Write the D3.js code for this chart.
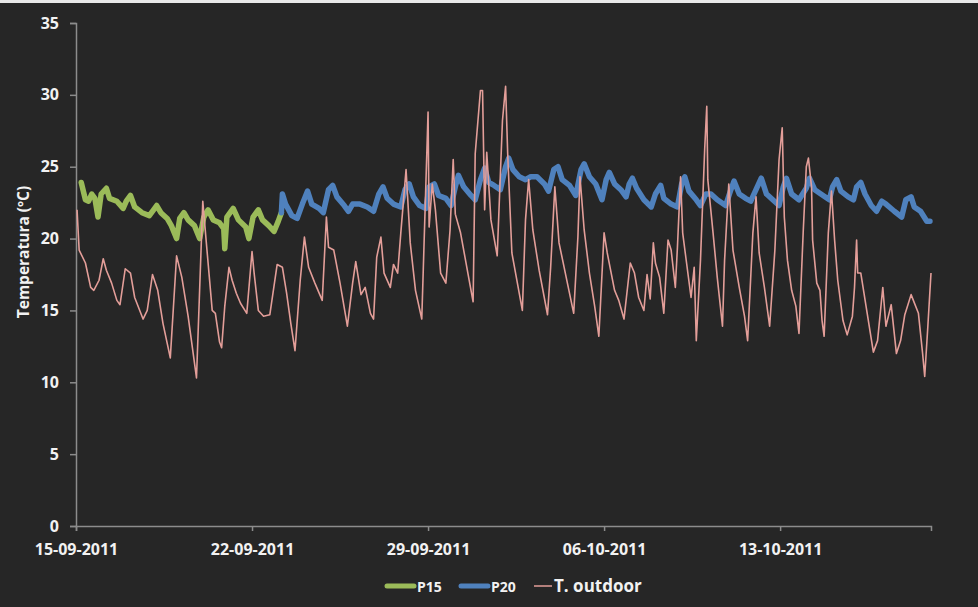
<!DOCTYPE html>
<html>
<head>
<meta charset="utf-8">
<script src="https://cdn.jsdelivr.net/npm/d3@7"></script>
<style>
  html, body { margin: 0; padding: 0; background: #262626; }
  svg { display: block; }
  text { font-family: "Open Sans", "DejaVu Sans", sans-serif; font-weight: bold; fill: #f2f2f2; }
</style>
</head>
<body>
<svg id="chart" width="978" height="607"></svg>
<script>
// Series start (hourly offsets are counted from here)
const startDate = "15-09-2011";

// Outdoor temperature (ºC)
const outdoorHours = [1,3,9,14,17,22,26,29,34,39,42,47,52,56,64,68,73,78,83,90,96,101,107,115,121,125,130,133,137,139,142,146,149,153,157,163,168,170,174,179,185,192,197,201,205,209,214,218,222,228,235,239,241,246,252,259,264,267,272,276,281,284,287,291,294,300,303,307,310,315,319,324,330,336,337,340,343,348,353,357,360,362,367,373,379,381,386,388,390,392,396,402,407,410,412,416,423,426,429,432,436,442,450,453,457,461,467,475,479,481,485,490,495,499,504,507,514,518,523,529,533,537,542,545,548,551,553,557,561,565,568,572,574,577,579,582,587,590,592,596,600,602,603,608,612,617,619,623,627,633,638,641,646,649,652,657,662,667,671,674,676,679,683,687,690,694,697,699,702,703,707,710,712,714,718,721,724,727,732,736,741,743,745,746,749,754,761,765,770,773,778,783,787,791,797,804,808,810,813,816];
const outdoorTemp = [22.0,19.2,18.3,16.6,16.4,17.1,18.6,17.8,16.9,15.7,15.4,17.9,17.6,15.9,14.4,15.0,17.5,16.4,14.1,11.7,18.8,17.3,14.6,10.3,22.6,19.2,15.0,14.8,12.8,12.4,15.3,18.0,17.1,16.2,15.5,14.8,19.1,17.6,15.0,14.6,14.7,18.2,18.0,16.2,14.1,12.2,17.1,20.1,18.0,16.9,15.7,21.5,19.4,19.2,16.9,13.9,16.9,18.4,16.1,16.6,14.8,14.4,18.7,20.1,17.6,16.6,18.2,17.6,20.4,24.8,19.7,16.4,14.4,28.8,20.8,23.8,22.0,17.6,16.9,20.6,25.5,21.7,20.4,18.0,15.6,25.9,30.3,30.3,22.0,26.0,21.3,18.8,28.2,30.6,25.9,19.0,16.2,15.0,21.3,24.1,20.6,17.8,14.7,18.0,23.6,19.7,17.6,14.8,20.1,24.3,20.6,17.6,15.3,13.2,20.4,19.0,16.4,15.7,14.4,18.3,17.6,15.9,15.0,17.5,15.8,19.7,18.3,17.3,14.8,19.9,19.2,16.6,19.4,24.3,20.4,18.7,15.9,18.0,12.9,18.5,26.2,29.2,24.1,20.4,17.3,13.9,18.5,23.8,19.2,16.6,14.6,12.9,20.4,22.9,19.0,16.6,13.9,19.2,25.5,27.7,21.5,18.5,16.4,15.3,13.4,20.4,25.0,25.6,23.6,19.9,16.9,16.4,14.3,13.2,20.4,23.3,19.9,17.1,14.3,13.3,14.6,16.6,19.9,17.6,17.6,15.3,12.1,12.9,16.6,13.9,15.4,12.0,12.9,14.7,16.1,14.8,12.0,10.4,13.9,17.6];

// P15 indoor temperature (ºC)
const p15Hours = [5,9,12,15,18,21,24,29,32,39,45,48,52,56,63,70,77,81,87,91,96,99,103,107,113,118,122,126,131,137,141,142,144,150,155,162,165,169,174,178,184,189,193,196];
const p15Temp = [23.9,22.7,22.6,23.1,22.8,21.5,23.1,23.5,22.8,22.6,22.1,22.6,23.0,22.2,21.8,21.6,22.3,21.8,21.4,20.9,20.0,21.4,21.8,21.3,20.9,20.0,21.5,22.0,21.3,21.1,20.7,19.3,21.5,22.1,21.3,20.8,20.0,21.5,22.0,21.3,20.9,20.5,21.2,21.8];

// P20 indoor temperature (ºC)
const p20Hours = [196,197,200,206,211,216,221,225,232,236,241,245,249,256,260,264,271,278,284,289,293,297,303,310,314,318,322,328,334,337,342,346,353,358,362,365,370,377,381,386,390,394,399,405,410,413,417,423,429,434,440,447,451,456,460,464,471,477,482,485,490,496,502,506,509,514,520,525,528,531,535,542,549,553,558,561,568,574,578,581,585,592,596,601,606,612,620,625,628,633,639,644,649,654,659,665,671,675,678,683,690,697,700,705,713,719,722,726,730,737,742,745,749,753,759,764,769,773,781,788,792,797,800,806,812,815];
const p20Temp = [21.8,23.1,22.4,21.6,21.4,22.4,23.3,22.4,22.1,21.8,23.4,23.7,22.9,22.3,21.9,22.4,22.4,22.2,21.9,23.1,23.6,22.8,22.4,22.2,23.4,23.8,22.9,22.3,22.1,23.6,23.8,23.0,22.8,22.3,23.6,24.4,23.6,23.0,22.7,24.1,24.9,23.9,23.7,23.4,25.0,25.6,24.8,24.3,24.1,24.3,24.3,23.8,23.3,24.8,25.0,24.1,23.7,23.0,24.8,25.2,24.3,23.8,22.7,24.1,24.6,23.8,23.4,22.9,23.8,24.2,23.5,22.7,22.2,23.1,23.7,22.8,22.4,22.2,23.8,24.3,23.3,22.7,22.3,23.1,23.1,22.7,22.3,23.4,24.0,23.1,22.8,22.6,23.4,24.2,23.1,22.7,22.3,23.6,24.2,23.1,22.7,23.5,24.2,23.4,23.0,22.7,23.6,24.1,23.3,22.9,22.7,23.6,23.9,23.1,22.3,21.9,22.6,22.4,21.9,21.5,22.7,22.9,22.2,21.9,21.2,21.2];

// Axis ticks
const xTickLabels = ["15-09-2011","22-09-2011","29-09-2011","06-10-2011","13-10-2011"];
const xEndLabel = "19-10-2011";
const yTicks = [0,5,10,15,20,25,30,35];

const seriesNames = ["P15","P20","T. outdoor"];
const seriesColors = ["#9bbb59","#4f81bd","#e39e99"];

const parseDate = d3.utcParse("%d-%m-%Y");
const t0 = parseDate(startDate);
const toSeries = (hours, temps) => d3.zip(hours, temps).map(([h, v]) => ({ date: d3.utcHour.offset(t0, h), value: v }));

const outdoor = toSeries(outdoorHours, outdoorTemp);
const p15 = toSeries(p15Hours, p15Temp);
const p20 = toSeries(p20Hours, p20Temp);

const svg = d3.select("#chart");
const W = 978, H = 607;
const plot = { left: 76, right: 931, top: 23, bottom: 526 };

svg.append("rect").attr("width", W).attr("height", H).attr("fill", "#262626");
// thin light frame line along the top edge
svg.append("rect").attr("x", 0).attr("y", 0).attr("width", W).attr("height", 3).attr("fill", "#e8e8e8");

const x = d3.scaleUtc()
  .domain([t0, parseDate(xEndLabel)])
  .range([plot.left, plot.right]);

const y = d3.scaleLinear()
  .domain([0, 35])
  .range([plot.bottom, plot.top]);

const axisColor = "#8c8c8c";

// Y axis
const gy = svg.append("g")
  .attr("transform", `translate(${plot.left},0)`)
  .call(d3.axisLeft(y).tickValues(yTicks).tickSize(6).tickPadding(11).tickFormat(d3.format("d")));
gy.select(".domain").attr("stroke", axisColor).attr("stroke-width", 1.5);
gy.selectAll(".tick line").attr("stroke", axisColor).attr("stroke-width", 1.5);
gy.selectAll(".tick text").attr("font-size", 16).attr("font-family", null).attr("fill", null);

// X axis
const gx = svg.append("g")
  .attr("transform", `translate(0,${plot.bottom})`)
  .call(d3.axisBottom(x).tickValues(xTickLabels.map(parseDate)).tickSize(5).tickPadding(13)
    .tickFormat(d3.utcFormat("%d-%m-%Y")));
gx.select(".domain").attr("stroke", axisColor).attr("stroke-width", 1.5);
gx.selectAll(".tick line").attr("stroke", axisColor).attr("stroke-width", 1.5);
gx.selectAll(".tick text").attr("font-size", 16).attr("font-family", null).attr("fill", null);

// Y axis title
svg.append("text")
  .attr("transform", "translate(29,252) rotate(-90)")
  .attr("text-anchor", "middle")
  .attr("font-size", 15.5)
  .text("Temperatura (ºC)");

const line = d3.line().x(d => x(d.date)).y(d => y(d.value));

// Indoor series: thick lines
svg.append("path").datum(p15)
  .attr("d", line).attr("fill", "none").attr("stroke", seriesColors[0])
  .attr("stroke-width", 5.5).attr("stroke-linejoin", "round").attr("stroke-linecap", "round");
svg.append("path").datum(p20)
  .attr("d", line).attr("fill", "none").attr("stroke", seriesColors[1])
  .attr("stroke-width", 5.5).attr("stroke-linejoin", "round").attr("stroke-linecap", "round");
// Outdoor series: thin line on top
svg.append("path").datum(outdoor)
  .attr("d", line).attr("fill", "none").attr("stroke", seriesColors[2])
  .attr("stroke-width", 1.6).attr("stroke-linejoin", "round");

// Legend
const legend = svg.append("g").attr("transform", "translate(0,586)");
const legendItems = [
  { x: 387, len: 27, w: 5, size: 14 },
  { x: 461, len: 27, w: 5, size: 14 },
  { x: 534, len: 18, w: 1.5, size: 17 }
];
legendItems.forEach((it, i) => {
  legend.append("line")
    .attr("x1", it.x).attr("x2", it.x + it.len).attr("y1", 0).attr("y2", 0)
    .attr("stroke", seriesColors[i]).attr("stroke-width", it.w).attr("stroke-linecap", i < 2 ? "round" : "butt");
  legend.append("text")
    .attr("x", it.x + it.len + (i < 2 ? 3 : 2)).attr("y", 6)
    .attr("font-size", it.size)
    .text(seriesNames[i]);
});
</script>
</body>
</html>
